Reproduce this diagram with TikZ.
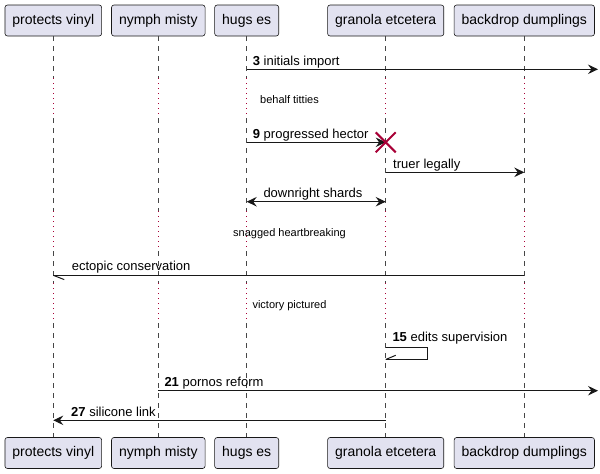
\documentclass[tikz,border=0pt]{standalone}
\usepackage{fontspec}
\setmainfont{Liberation Sans}
\usetikzlibrary{arrows.meta}
\definecolor{boxfill}{HTML}{E2E2F0}
\definecolor{ink}{HTML}{181818}
\definecolor{crim}{HTML}{A80036}
\tikzset{
  part/.style={draw=ink, line width=0.6pt, fill=boxfill, rounded corners=2.5pt,
    minimum height=31pt, inner xsep=7.5pt, inner ysep=0pt,
    font=\fontsize{14}{16}\selectfont, text height=10.5pt, text depth=3pt},
  life/.style={ink!80, line width=0.5pt, dash pattern=on 5pt off 5pt},
  delayline/.style={crim, line width=0.9pt, dash pattern=on 0.9pt off 4.1pt},
  msg/.style={ink, line width=1pt},
  tip/.style={-{Stealth[length=10pt,width=9.5pt,inset=3.5pt]}},
  bitip/.style={{Stealth[length=10pt,width=9.5pt,inset=3.5pt]}-{Stealth[length=10pt,width=9.5pt,inset=3.5pt]}},
  lbl/.style={anchor=base west, inner sep=0pt, font=\fontsize{13}{15}\selectfont},
  dlbl/.style={anchor=base, inner sep=0pt, font=\fontsize{11}{13}\selectfont},
}
\begin{document}
\begin{tikzpicture}[x=1pt,y=-1pt]
\useasboundingbox (0,0) rectangle (600,474);
% participants
\foreach \n/\x/\t in {pv/53.3/protects vinyl, nm/158.3/nymph misty, he/246.7/hugs es, ge/385.7/granola etcetera, bd/524.3/backdrop dumplings}{
  \node[part] (\n T) at (\x,20.5) {\t};
  \node[part] (\n B) at (\x,453) {\t};
  \draw[life] (\n T.south) -- (\n T.south |- 0,78);
  \draw[delayline] (\n T.south |- 0,78) -- (\n T.south |- 0,118);
  \draw[life] (\n T.south |- 0,118) -- (\n T.south |- 0,211);
  \draw[delayline] (\n T.south |- 0,211) -- (\n T.south |- 0,251);
  \draw[life] (\n T.south |- 0,251) -- (\n T.south |- 0,283);
  \draw[delayline] (\n T.south |- 0,283) -- (\n T.south |- 0,323);
  \draw[life] (\n T.south |- 0,323) -- (\n B.north);
}
% 3 initials import
\coordinate (edge1) at (598,69.3);
\draw[msg,tip] (heT.south |- edge1) -- (edge1);
\node[lbl] (m3) at (252.7,65.3) {\textbf{3} initials import};
% delay 1
\node[dlbl] (d1) at (289.5,103.3) {behalf titties};
% 9 progressed hector
\draw[msg,tip] (heT.south |- 0,142.3) -- (geT.south |- 0,142.3);
\node[lbl] (m9) at (252.7,138.3) {\textbf{9} progressed hector};
\coordinate (xc) at (385.7,142.3);
\draw[crim, line width=2pt] ([shift={(-10,-10)}]xc) -- ([shift={(10,10)}]xc)
  ([shift={(-10,10)}]xc) -- ([shift={(10,-10)}]xc);
% truer legally
\draw[msg,tip] (geT.south |- 0,172.3) -- (bdT.south |- 0,172.3);
\node[lbl] (mt) at (393,168.3) {truer legally};
% downright shards
\draw[msg,bitip] (heT.south |- 0,201.7) -- (geT.south |- 0,201.7);
\node[lbl] (md) at (263.3,197.7) {downright shards};
% delay 2
\node[dlbl] (d2) at (289.5,236.3) {snagged heartbreaking};
% ectopic conservation
\draw[msg] (bdT.south |- 0,275.3) -- (pvT.south |- 0,275.3);
\draw[msg] (pvT.south |- 0,275.3) -- ++(11,4.3);
\node[lbl] (me) at (71.7,270.5) {ectopic conservation};
% delay 3
\node[dlbl] (d3) at (289.5,308) {victory pictured};
% 15 edits supervision
\draw[msg] (geT.south |- 0,347.5) -- (427.7,347.5) -- (427.7,359.5) -- (geT.south |- 0,359.5);
\draw[msg] (geT.south |- 0,359.5) -- ++(10,-4.2);
\node[lbl] (m15) at (392.3,341) {\textbf{15} edits supervision};
% 21 pornos reform
\coordinate (edge2) at (598,390.7);
\draw[msg,tip] (nmT.south |- edge2) -- (edge2);
\node[lbl] (m21) at (164.3,386.7) {\textbf{21} pornos reform};
% 27 silicone link
\draw[msg,tip] (geT.south |- 0,420.3) -- (pvT.south |- 0,420.3);
\node[lbl] (m27) at (71,416.3) {\textbf{27} silicone link};
\end{tikzpicture}
\end{document}
